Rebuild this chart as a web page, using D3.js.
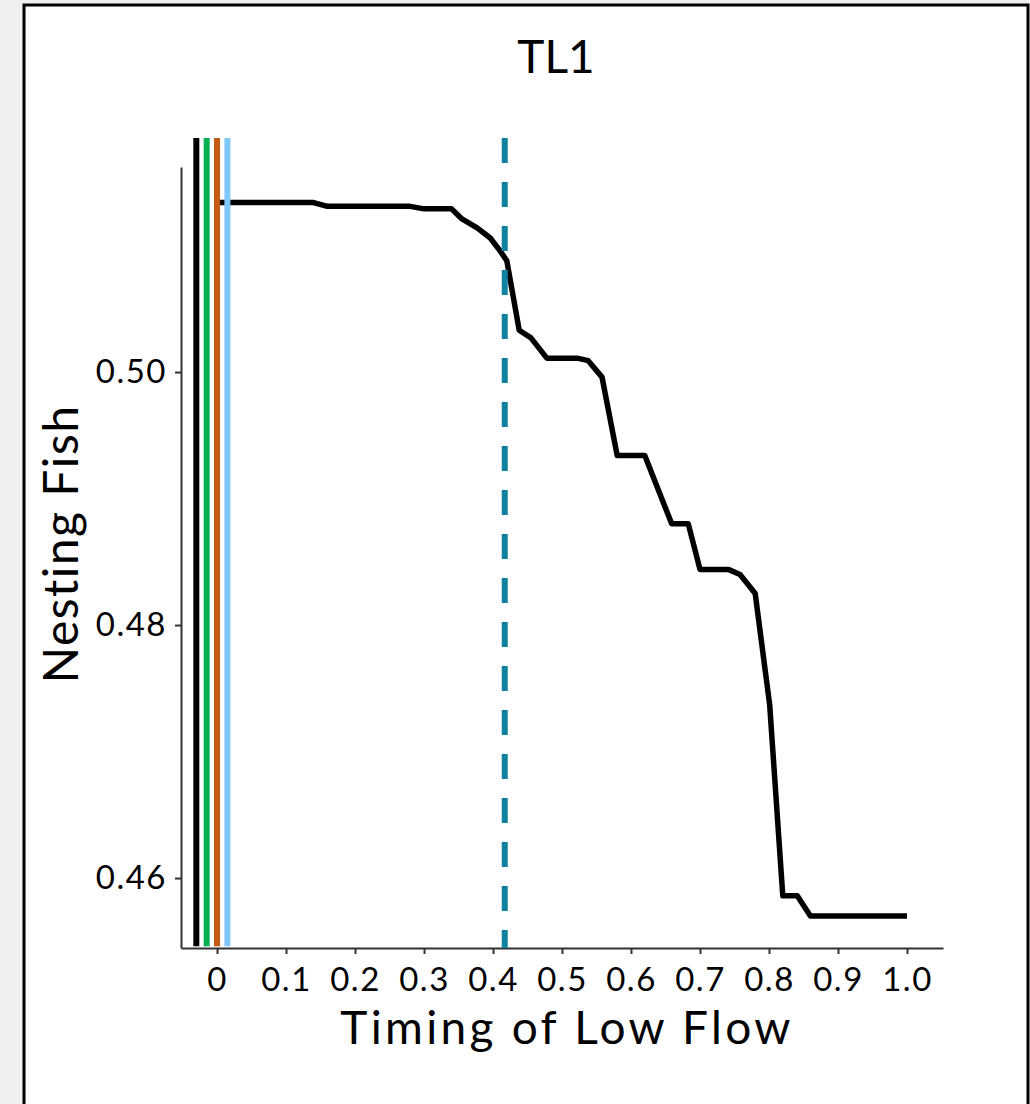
<!DOCTYPE html>
<html>
<head>
<meta charset="utf-8">
<script src="https://cdn.jsdelivr.net/npm/d3@7"></script>
<style>
  body { margin: 0; background: #f0f0f0; }
  svg { display: block; }
  text { font-family: "Lato", "Noto Sans", sans-serif; fill: #000; }
</style>
</head>
<body>
<svg width="1030" height="1104"></svg>
<script>
// timing of low flow vs nesting fish
var timing  = [0, 0.14, 0.16, 0.28, 0.30, 0.34, 0.355, 0.377, 0.396, 0.41, 0.42, 0.438, 0.455, 0.478, 0.522, 0.538, 0.558, 0.58, 0.62, 0.659, 0.683, 0.70, 0.741, 0.758, 0.78, 0.801, 0.82, 0.841, 0.86, 1.0];
var nesting = [0.5134, 0.5134, 0.5131, 0.5131, 0.5129, 0.5129, 0.5121, 0.5114, 0.5106, 0.5096, 0.5088, 0.5033, 0.5027, 0.5011, 0.5011, 0.5009, 0.4996, 0.4934, 0.4934, 0.4880, 0.4880, 0.4844, 0.4844, 0.4840, 0.4825, 0.4737, 0.4586, 0.4586, 0.4570, 0.4570];

// vertical reference lines near zero
var refX      = [-0.03, -0.015, 0, 0.015];
var refColors = ["#000000", "#00b050", "#c55a11", "#80c8fa"];
var dashX = 0.417;

var xTicks = [0, 0.1, 0.2, 0.3, 0.4, 0.5, 0.6, 0.7, 0.8, 0.9, 1.0];
var xTickLabels = ["0", "0.1", "0.2", "0.3", "0.4", "0.5", "0.6", "0.7", "0.8", "0.9", "1.0"];
var yTicks = [0.46, 0.48, 0.50];

var svg = d3.select("svg");

// outer frame
svg.append("rect")
    .attr("x", 24).attr("y", 5)
    .attr("width", 1004).attr("height", 1120)
    .attr("fill", "white")
    .attr("stroke", "black")
    .attr("stroke-width", 3);

var x = d3.scaleLinear().domain([-0.0522, 1.0522]).range([181, 943]);
var y = d3.scaleLinear().domain([0.45447, 0.51621]).range([948, 167]);

// axes
var yAxis = svg.append("g")
    .attr("transform", "translate(181,0)")
    .call(d3.axisLeft(y).tickValues(yTicks).tickFormat(d3.format(".2f")).tickSize(6).tickSizeOuter(0).tickPadding(8));

var xAxis = svg.append("g")
    .attr("transform", "translate(0,948)")
    .call(d3.axisBottom(x).tickValues(xTicks).tickFormat(function(d, i) { return xTickLabels[i]; })
      .tickSize(6).tickSizeOuter(0).tickPadding(14));

[xAxis, yAxis].forEach(function(a) {
  a.select(".domain").attr("stroke", "#333").attr("stroke-width", 2);
  a.selectAll(".tick line").attr("stroke", "#333").attr("stroke-width", 2);
  a.selectAll(".tick text").attr("fill", "#000")
      .style("font-size", "33px").style("letter-spacing", "1.5px");
});

// curve
var line = d3.line()
    .x(function(d, i) { return x(timing[i]); })
    .y(function(d) { return y(d); });

svg.append("path")
    .datum(nesting)
    .attr("fill", "none")
    .attr("stroke", "black")
    .attr("stroke-width", 5.5)
    .attr("stroke-linejoin", "round")
    .attr("d", line);

// coloured vertical lines
svg.selectAll(".ref")
    .data(refX)
    .enter().append("line")
    .attr("class", "ref")
    .attr("x1", function(d) { return x(d); })
    .attr("x2", function(d) { return x(d); })
    .attr("y1", y(0.5185))
    .attr("y2", y(0.4546))
    .attr("stroke", function(d, i) { return refColors[i]; })
    .attr("stroke-width", 6);

// dashed line
svg.append("line")
    .attr("x1", x(dashX)).attr("x2", x(dashX))
    .attr("y1", y(0.5185)).attr("y2", y(0.45447))
    .attr("stroke", "#0f82a0")
    .attr("stroke-width", 6)
    .attr("stroke-dasharray", "25,19");

// titles
svg.append("text")
    .attr("x", 556).attr("y", 73)
    .attr("text-anchor", "middle")
    .style("font-size", "46px")
    .text("TL1");

svg.append("text")
    .attr("x", 567).attr("y", 1044)
    .attr("text-anchor", "middle")
    .style("font-size", "46px")
    .style("letter-spacing", "3.3px")
    .text("Timing of Low Flow");

svg.append("text")
    .attr("transform", "translate(78,544) rotate(-90)")
    .attr("text-anchor", "middle")
    .style("font-size", "48px")
    .style("letter-spacing", "1.5px")
    .text("Nesting Fish");
</script>
</body>
</html>
